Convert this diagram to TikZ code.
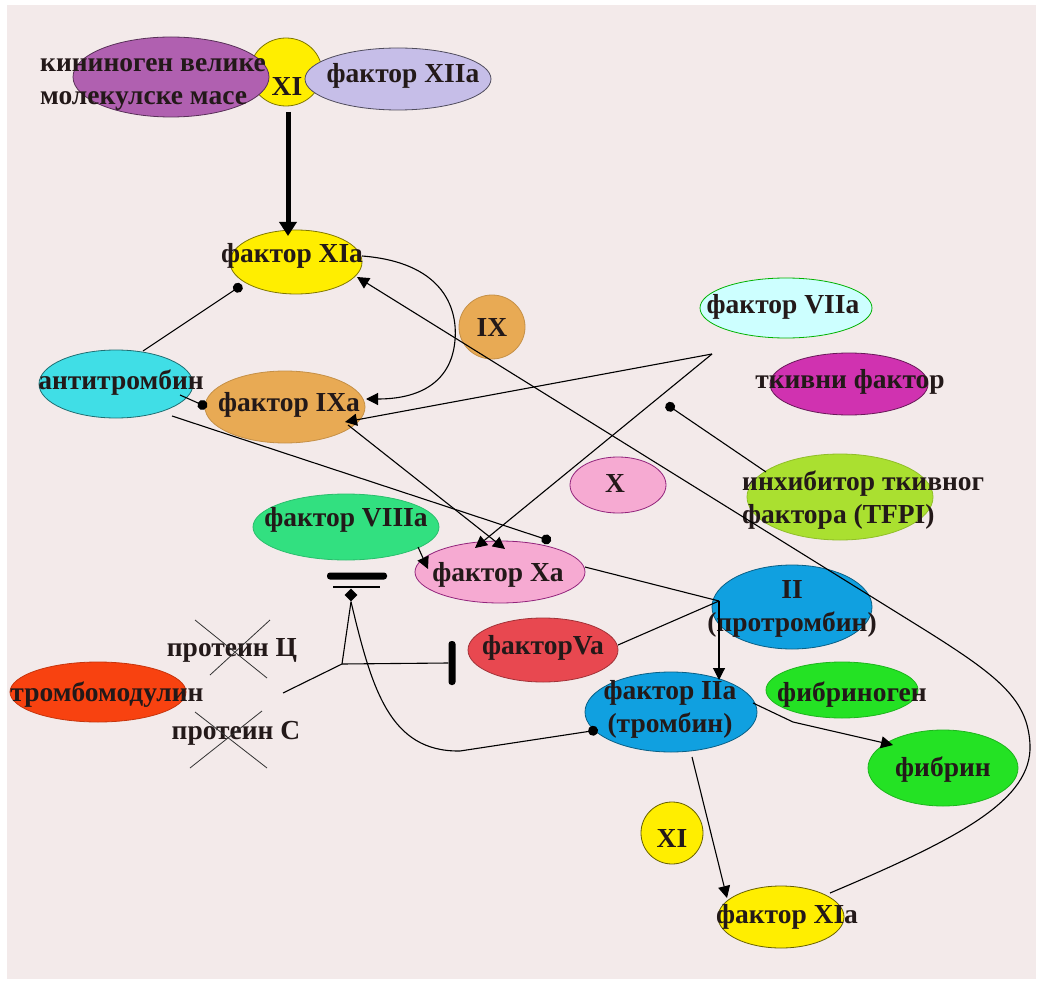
\documentclass[tikz,border=0pt]{standalone}
\usepackage{fontspec}
\setmainfont{Liberation Serif}
\usetikzlibrary{arrows.meta,shapes.geometric}
\definecolor{bgpink}{RGB}{243,234,234}
\definecolor{txtc}{RGB}{35,25,25}
\definecolor{cKin}{RGB}{176,96,176}
\definecolor{cYel}{RGB}{255,238,0}
\definecolor{cLav}{RGB}{198,190,232}
\definecolor{cOra}{RGB}{232,170,84}
\definecolor{cCya}{RGB}{64,222,230}
\definecolor{cVIIa}{RGB}{205,255,255}
\definecolor{cMag}{RGB}{208,50,176}
\definecolor{cPink}{RGB}{246,170,210}
\definecolor{cTFPI}{RGB}{170,224,48}
\definecolor{cVIII}{RGB}{50,224,128}
\definecolor{cRed}{RGB}{232,72,80}
\definecolor{cBlue}{RGB}{16,160,224}
\definecolor{cGrn}{RGB}{36,226,36}
\definecolor{cTM}{RGB}{248,66,16}
\begin{document}
\begin{tikzpicture}[x=1pt,y=-1pt,
  ell/.style={ellipse, line width=0.8pt, inner sep=0pt},
  lbl/.style={font=\fontsize{27.5}{33}\selectfont\bfseries, text=txtc, inner sep=0pt, align=center},
  conn/.style={line width=1.1pt, draw=black},
  arr/.style={conn, -{Triangle[length=12pt,width=12pt]}},
  dotarr/.style={conn, -{Circle[length=10pt]}},
  cross/.style={line width=0.8pt, draw=black!80},
  barbox/.style={fill=black, rounded corners=3pt, inner sep=0pt}
]
\useasboundingbox (0,0) rectangle (1041,984);
\fill[white] (0,0) rectangle (1041,984);
\fill[bgpink] (7,5) rectangle (1036,979);

% ---- top cluster ----
\node[ell, fill=cYel, draw=cYel!50!black, minimum width=72pt, minimum height=68pt] (xiT) at (286,72) {};
\node[ell, fill=cKin, draw=cKin!50!black, minimum width=196pt, minimum height=80pt] (kin) at (171,77) {};
\node[ell, fill=cLav, draw=cLav!40!black, minimum width=186pt, minimum height=62pt] (xiia) at (398,79) {};
\node[lbl, anchor=west, align=left] (kinT) at (40,84) {кининоген велике\\молекулске масе};
\node[lbl] (xiTT) at (287,86) {XI};
\node[lbl] (xiiaT) at (403,76) {фактор XIIa};

% ---- other nodes ----
\node[ell, fill=cYel, draw=cYel!50!black, minimum width=132pt, minimum height=64pt] (xiaT) at (296,262) {};
\node[lbl] (xiaTT) at (292,256) {фактор XIa};
\node[ell, fill=cOra, draw=cOra!85!black, minimum width=66pt, minimum height=64pt] (ix) at (492,327) {};
\node[lbl] (ixT) at (492,327) {IX};
\node[ell, fill=cCya, draw=cCya!50!black, minimum width=154pt, minimum height=68pt] (at) at (116,384) {};
\node[lbl] (atT) at (121,383) {антитромбин};
\node[ell, fill=cOra, draw=cOra!85!black, minimum width=160pt, minimum height=72pt] (ixa) at (285,407) {};
\node[lbl] (ixaT) at (289,405) {фактор IXa};
\node[ell, fill=cVIIa, draw=green!70!black, minimum width=172pt, minimum height=60pt] (viia) at (786,308) {};
\node[lbl] (viiaT) at (783,307) {фактор VIIa};
\node[ell, fill=cMag, draw=cMag!50!black, minimum width=158pt, minimum height=62pt] (tf) at (849,384) {};
\node[lbl] (tfT) at (850,382) {ткивни фактор};
\node[ell, fill=cPink, draw=cMag!70!black, minimum width=96pt, minimum height=56pt] (x) at (618,485) {};
\node[lbl] (xT) at (615,483) {X};
\node[ell, fill=cTFPI, draw=cTFPI!85!black, minimum width=186pt, minimum height=86pt] (tfpi) at (840,497) {};
\node[lbl, anchor=west, align=left] (tfpiT) at (742,500) {инхибитор ткивног\\фактора (TFPI)};
\node[ell, fill=cVIII, draw=cVIII!85!black, minimum width=186pt, minimum height=66pt] (viiia) at (346,527) {};
\node[lbl] (viiiaT) at (346,520) {фактор VIIIa};
\node[ell, fill=cPink, draw=cMag!70!black, minimum width=170pt, minimum height=62pt] (xa) at (500,572) {};
\node[lbl] (xaT) at (498,575) {фактор Xa};
\node[ell, fill=cRed, draw=cRed!70!black, minimum width=150pt, minimum height=64pt] (va) at (543,650) {};
\node[lbl] (vaT) at (543,648) {факторVa};
\node[ell, fill=cBlue, draw=cBlue!60!black, minimum width=160pt, minimum height=84pt] (ii) at (792,607) {};
\node[lbl] (iiT) at (792,609) {II\\(протромбин)};
\node[ell, fill=cBlue, draw=cBlue!60!black, minimum width=172pt, minimum height=80pt] (iia) at (671,712) {};
\node[lbl] (iiaT) at (670,709) {фактор IIa\\(тромбин)};
\node[ell, fill=cGrn, draw=cGrn!80!black, minimum width=152pt, minimum height=56pt] (fbg) at (842,690) {};
\node[lbl] (fbgT) at (852,695) {фибриноген};
\node[ell, fill=cGrn, draw=cGrn!80!black, minimum width=150pt, minimum height=76pt] (fbn) at (943,768) {};
\node[lbl] (fbnT) at (943,770) {фибрин};
\node[ell, fill=cYel, draw=cYel!40!black, minimum width=62pt, minimum height=62pt] (xiB) at (672,833) {};
\node[lbl] (xiBT) at (672,838) {XI};
\node[ell, fill=cYel, draw=cYel!40!black, minimum width=126pt, minimum height=62pt] (xiaB) at (781,917) {};
\node[lbl] (xiaBT) at (787,917) {фактор XIa};
\node[ell, fill=cTM, draw=cTM!80!black, minimum width=176pt, minimum height=60pt] (tm) at (98,692) {};
\node[lbl] (tmT) at (107,695) {тромбомодулин};
\node[lbl] (pc1) at (232,650) {протеин Ц};
\node[lbl] (pc2) at (236,733) {протеин С};

% crosses over protein labels
\draw[cross] ([shift={(-37,-30)}]pc1.center) -- ([shift={(35,28)}]pc1.center);
\draw[cross] ([shift={(-22,25)}]pc1.center) -- ([shift={(38,-30)}]pc1.center);
\draw[cross] ([shift={(-46,35)}]pc2.center) -- ([shift={(26,-22)}]pc2.center);
\draw[cross] ([shift={(-41,-21)}]pc2.center) -- ([shift={(31,35)}]pc2.center);

% inhibition bars
\node[barbox, minimum width=60pt, minimum height=7pt] (bar8) at (357,576) {};
\draw[line width=1.3pt] ([shift={(-24,11)}]bar8.center) -- ([shift={(23,11)}]bar8.center);
\node[barbox, minimum width=7pt, minimum height=44pt] (barV) at (452,663) {};
\node[diamond, fill=black, inner sep=0pt, minimum width=13pt, minimum height=13pt] (dia) at (351,595) {};

% coordinates
\coordinate (vt) at (712,354);
\coordinate (tfpiDot) at (666,404);
\coordinate (jn) at (719,601);
\coordinate (jc) at (342,664);
\coordinate (tmEnd) at (283,693);

% ---- connectors ----
\draw[line width=5pt, -{Triangle[length=14pt,width=17pt]}] ([shift={(2,40)}]xiT.center) -- ([shift={(-8,-26)}]xiaT.center);
\draw[dotarr] ([shift={(27,-33)}]at.center) -- ([shift={(-54,23)}]xiaT.center);
\draw[arr] ([shift={(66,-6)}]xiaT.center) .. controls (440,262) and (458,305) .. (455,340)
   .. controls (452,378) and (425,399) .. ([shift={(81,-8)}]ixa.center);
\draw[arr] ([shift={(49,-24)}]xiaB.center) .. controls (960,838) and (1032,800) .. (1030,745)
   .. controls (1028,700) and (1000,677) .. (925,630) -- ([shift={(61,15)}]xiaT.center);
\draw[arr] (vt) -- ([shift={(60,15)}]ixa.center);
\draw[arr] (vt) -- ([shift={(-25,-24)}]xa.center);
\draw[arr] ([shift={(63,18)}]ixa.center) -- ([shift={(5,-23)}]xa.center);
\draw[dotarr] ([shift={(56,32)}]at.center) -- ([shift={(51,-31)}]xa.center);
\draw[dotarr] ([shift={(64,11)}]at.center) -- ([shift={(-78,0)}]ixa.center);
\draw[dotarr] ([shift={(-74,-25)}]tfpi.center) -- (tfpiDot);
\draw[arr] ([shift={(72,20)}]viiia.center) -- ([shift={(-72,-3)}]xa.center);
\draw[conn] ([shift={(85,-5)}]xa.center) -- (jn);
\draw[conn] ([shift={(75,-5)}]va.center) -- (jn);
\draw[arr] (jn) -- ([shift={(48,-32)}]iia.center);
\draw[arr] ([shift={(82,-9)}]iia.center) -- (793,722) -- ([shift={(-50,-23)}]fbn.center);
\draw[arr] ([shift={(21,45)}]iia.center) -- ([shift={(-54,-19)}]xiaB.center);
\draw[conn] (tmEnd) -- (jc);
\draw[conn] (jc) -- (dia.south);
\draw[conn] (jc) -- (barV.west);
\draw[dotarr] (dia.south) .. controls (372,690) and (390,752) .. (460,751) -- ([shift={(-73,18)}]iia.center);
\end{tikzpicture}
\end{document}
